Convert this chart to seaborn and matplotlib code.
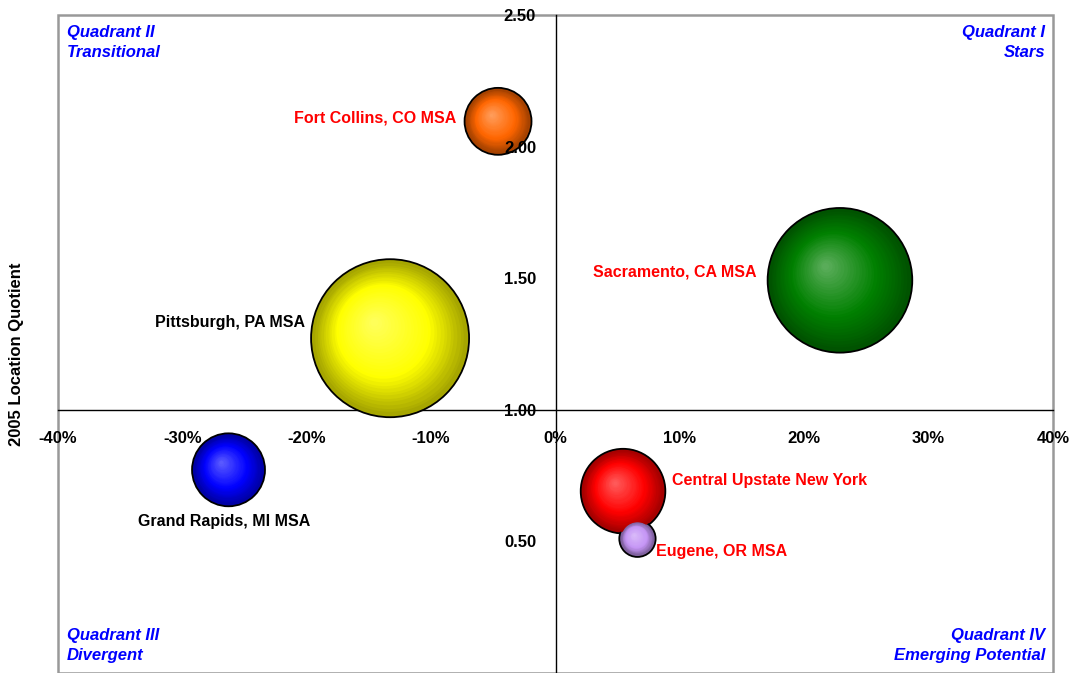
import matplotlib.pyplot as plt
import matplotlib.colors as mcolors
import matplotlib.transforms as mtransforms
from matplotlib.patches import Rectangle
import numpy as np
import pandas as pd
import seaborn as sns

# --- data ---
metros = [
    "Fort Collins, CO MSA",
    "Sacramento, CA MSA",
    "Pittsburgh, PA MSA",
    "Grand Rapids, MI MSA",
    "Central Upstate New York",
    "Eugene, OR MSA",
]
growth = [-0.0462, 0.2287, -0.1330, -0.2629, 0.0543, 0.0659]   # employment change
lq_2005 = [2.096, 1.492, 1.272, 0.772, 0.691, 0.510]            # location quotient
employment = [11.2, 52.3, 62.4, 13.3, 17.9, 3.3]                # bubble size (thousands)

x_ticks = [-0.4, -0.3, -0.2, -0.1, 0.0, 0.1, 0.2, 0.3, 0.4]
y_ticks = [0.5, 1.0, 1.5, 2.0, 2.5]

# --- styling ---
base_colors = ["#FF6600", "#008000", "#FFFF00", "#0000FF", "#FF0000", "#C595F5"]
label_colors = ["red", "red", "black", "black", "red", "red"]
# (dx, dy) in points from bubble centre, horizontal alignment
label_layout = [(-30, 2.5, "right"), (-60, 6, "right"), (-61, 11, "right"),
                (-3, -37, "center"), (35, 8, "left"), (13, -9.5, "left")]
PT2_PER_UNIT = 207.4

df = pd.DataFrame({"metro": metros, "growth": growth, "lq": lq_2005, "emp": employment})

sns.set_style("white")
plt.rcParams["font.family"] = ["Liberation Sans", "DejaVu Sans"]
plt.rcParams["text.color"] = "black"
plt.rcParams["axes.labelcolor"] = "black"
plt.rcParams["xtick.color"] = "black"
plt.rcParams["ytick.color"] = "black"

fig = plt.figure(figsize=(10.7, 6.73), dpi=100)
ax = fig.add_axes([58 / 1070, 0.0, 995 / 1070, 658 / 673])


def shade(c, amount):
    """amount < 0 darkens toward black, > 0 lightens toward white"""
    rgb = np.array(mcolors.to_rgb(c))
    if amount < 0:
        return tuple(rgb * (1 + amount))
    return tuple(rgb + (1 - rgb) * amount)


dark = {m: shade(c, -0.35) for m, c in zip(metros, base_colors)}
smin, smax = min(employment) * PT2_PER_UNIT, max(employment) * PT2_PER_UNIT

sns.scatterplot(data=df, x="growth", y="lq", hue="metro", palette=dark,
                size="emp", sizes=(smin, smax), edgecolor="black", linewidth=1.3,
                legend=False, ax=ax, zorder=3)

# fake radial shading, like the old office charts
n_layers = 28
d = 0.3
for m, x, y, e, c in zip(metros, growth, lq_2005, employment, base_colors):
    s = e * PT2_PER_UNIT
    r = np.sqrt(s) / 2
    fmax = 1 - 1.0 / ((1 - d) * r)
    for f in np.linspace(fmax, 0.05, n_layers):
        if f > 0.6:
            t = (f - 0.6) / (fmax - 0.6)
            col = np.array(mcolors.to_rgb(c)) * (1 - t) + np.array(dark[m]) * t
        else:
            t = (0.6 - f) / 0.55
            col = np.array(mcolors.to_rgb(c)) * (1 - t) + np.array(shade(c, 0.35)) * t
        off = d * (1 - f) * r / np.sqrt(2)
        tr = mtransforms.offset_copy(ax.transData, fig=fig, x=-off, y=off, units="points")
        ax.scatter([x], [y], s=s * f ** 2, color=[col], linewidths=0,
                   transform=tr, zorder=4)

for m, x, y, col, (dx, dy, ha) in zip(metros, growth, lq_2005, label_colors, label_layout):
    ax.annotate(m, (x, y), xytext=(dx, dy), textcoords="offset points",
                ha=ha, va="center", color=col, fontsize=11.5, fontweight="bold", zorder=6)

# spines first: set_position resets the tick objects
ax.spines["left"].set_position(("data", 0))
ax.spines["bottom"].set_position(("data", 1.0))
for side in ["left", "bottom"]:
    ax.spines[side].set_color("black")
    ax.spines[side].set_linewidth(1)
    ax.spines[side].set_zorder(2)
ax.spines["top"].set_visible(False)
ax.spines["right"].set_visible(False)
ax.add_patch(Rectangle((0, 0), 1, 1, transform=ax.transAxes, fill=False,
                       edgecolor="#999999", linewidth=1.8, clip_on=False, zorder=1))

ax.set_xlim(-0.4, 0.4)
ax.set_ylim(0, 2.5)
ax.tick_params(axis="both", labelsize=12, direction="out", length=3.5, width=1,
               color="black", labelcolor="black")
ax.tick_params(axis="x", pad=12)
ax.tick_params(axis="y", pad=10.5)
ax.set_xticks(x_ticks)
ax.set_xticklabels([f"{v:.0%}" for v in x_ticks], fontweight="bold", fontsize=12)
ax.set_yticks(y_ticks)
ax.set_yticklabels([f"{v:.2f}" for v in y_ticks], fontweight="bold", fontsize=12)
# tick labels sit on top of the bubbles (2.00 over Fort Collins)
ax.xaxis.set_zorder(5)
ax.yaxis.set_zorder(5)

ax.set_xlabel("")
ax.set_ylabel("2005 Location Quotient", fontsize=12, fontweight="bold", color="black")
ax.yaxis.set_label_coords(-0.034, 0.485)

quad = dict(color="#0000FF", fontsize=12, fontweight="bold", style="italic",
            transform=ax.transAxes, linespacing=1.45)
ax.text(0.009, 0.985, "Quadrant II\nTransitional", ha="left", va="top", **quad)
ax.text(0.992, 0.985, "Quadrant I\nStars", ha="right", va="top", multialignment="right", **quad)
ax.text(0.009, 0.015, "Quadrant III\nDivergent", ha="left", va="bottom", **quad)
ax.text(0.992, 0.015, "Quadrant IV\nEmerging Potential", ha="right", va="bottom",
        multialignment="right", **quad)

fig.savefig("out.png", dpi=100)
